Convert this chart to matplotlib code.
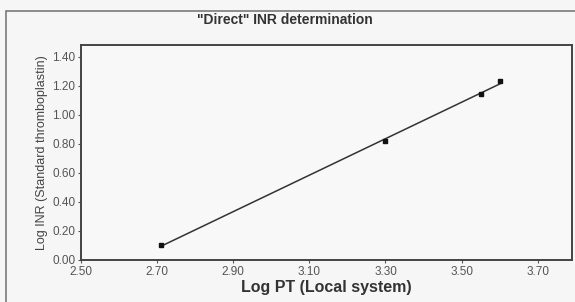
import matplotlib

matplotlib.use("Agg")
import matplotlib.pyplot as plt
import numpy as np
from matplotlib.patches import Rectangle

# data
log_pt = np.array([2.71, 3.30, 3.55, 3.60])
log_inr = np.array([0.10, 0.82, 1.14, 1.23])
x_ticks = [2.50, 2.70, 2.90, 3.10, 3.30, 3.50, 3.70]
y_ticks = [0.00, 0.20, 0.40, 0.60, 0.80, 1.00, 1.20, 1.40]

plt.rcParams["font.family"] = ["Liberation Sans", "DejaVu Sans"]

fig = plt.figure(figsize=(5.75, 3.02), dpi=100)
fig.patch.set_facecolor("#f6f6f6")

# outer frame of the original panel
fig.patches.append(
    Rectangle((6 / 575, -0.1), 1.2, (302 - 11) / 302 + 0.1,
              transform=fig.transFigure, fill=False,
              edgecolor="#7a7a7a", linewidth=1.2)
)

ax = fig.add_axes([81 / 575, 42 / 302, 491 / 575, 215 / 302])
ax.set_facecolor("#f8f8f8")

# least-squares line through the points
slope, intercept = np.polyfit(log_pt, log_inr, 1)
fit_x = np.array([log_pt.min(), log_pt.max()])
ax.plot(fit_x, slope * fit_x + intercept, color="#333333", linewidth=1.1)
ax.plot(log_pt, log_inr, linestyle="none", marker="s", markersize=3.2,
        color="#111111")

ax.set_xlim(2.50, 3.79)
ax.set_ylim(0.00, 1.48)
ax.set_xticks(x_ticks)
ax.set_yticks(y_ticks)
ax.set_xticklabels([f"{v:.2f}" for v in x_ticks])
ax.set_yticklabels([f"{v:.2f}" for v in y_ticks])
ax.tick_params(colors="#555555", labelsize=8.5, length=2, width=0.8, pad=2)

for side in ax.spines.values():
    side.set_color("#444444")
    side.set_linewidth(1.4)

ax.set_xlabel("Log PT (Local system)", fontsize=11.5, fontweight="bold",
              color="#333333", labelpad=2)
ax.set_ylabel("Log INR (Standard thromboplastin)", fontsize=9,
              color="#444444", labelpad=3)
fig.text(285 / 575, (302 - 20) / 302, "\"Direct\" INR determination",
         ha="center", va="center", fontsize=10, fontweight="bold",
         color="#333333")

fig.savefig("out.png", dpi=100, facecolor=fig.get_facecolor())
